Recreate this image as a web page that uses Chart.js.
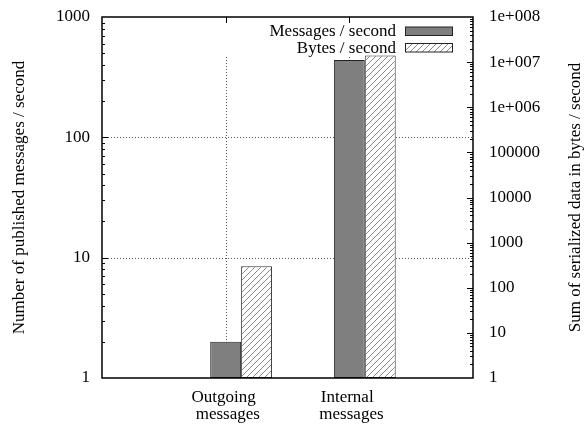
<!DOCTYPE html>
<html><head><meta charset="utf-8">
<script src="https://cdn.jsdelivr.net/npm/chart.js@4/dist/chart.umd.min.js"></script>
<style>html,body{margin:0;padding:0;background:#fff;}#wrap{width:584px;height:424px;}</style>
</head><body><div id="wrap"><canvas id="c" width="584" height="424"></canvas></div>
<script>
const categories = [['Outgoing ', ' messages'], ['Internal ', ' messages']];
const messagesPerSecond = [2, 440];
const bytesPerSecond = [300, 1.4e7];
const seriesLabels = ['Messages / second', 'Bytes / second'];
const leftTicks = [1, 10, 100, 1000];
const leftTickLabels = ['1', '10', '100', '1000'];
const rightTicks = [1, 10, 100, 1000, 10000, 100000, 1e6, 1e7, 1e8];
const rightTickLabels = ['1', '10', '100', '1000', '10000', '100000', '1e+006', '1e+007', '1e+008'];
const leftTitle = 'Number of published messages / second';
const rightTitle = 'Sum of serialized data in bytes / second';

const FONT = '"Liberation Serif", "Times New Roman", serif';
const FS = 17;

function hatchPattern(ctx) {
  const p = document.createElement('canvas');
  p.width = 6; p.height = 6;
  const g = p.getContext('2d');
  g.fillStyle = '#fff'; g.fillRect(0, 0, 6, 6);
  g.strokeStyle = '#8a8a8a'; g.lineWidth = 1;
  g.beginPath();
  g.moveTo(-1, 7); g.lineTo(7, -1);
  g.moveTo(-1, 1); g.lineTo(1, -1);
  g.moveTo(5, 7); g.lineTo(7, 5);
  g.stroke();
  return ctx.createPattern(p, 'repeat');
}

const canvas = document.getElementById('c');
const ctx0 = canvas.getContext('2d');
const hatch = hatchPattern(ctx0);
const DARK = '#7f7f7f';

const pad = arr => [null, ...arr, null];

const decor = {
  id: 'decor',
  beforeDatasetsDraw(chart) {
    const { ctx, chartArea: a, scales: { x, y } } = chart;
    ctx.save();
    ctx.strokeStyle = '#555';
    ctx.lineWidth = 1;
    ctx.setLineDash([1, 2]);
    leftTicks.forEach(v => {
      if (v <= y.min || v >= y.max) return;
      const py = Math.round(y.getPixelForValue(v)) + 0.5;
      ctx.beginPath(); ctx.moveTo(a.left, py); ctx.lineTo(a.right, py); ctx.stroke();
    });
    const keyBottom = 57;
    categories.forEach((c, i) => {
      const px = Math.round(x.getPixelForValue(i + 1)) + 0.5;
      ctx.beginPath(); ctx.moveTo(px, keyBottom); ctx.lineTo(px, a.bottom); ctx.stroke();
    });
    ctx.restore();
  },
  afterDatasetsDraw(chart) {
    const { ctx, chartArea: a, scales: { x, y, y2 } } = chart;
    ctx.save();
    ctx.strokeStyle = '#000';
    ctx.lineWidth = 1;
    for (let e = 0; e < 3; e++) {
      for (let k = 1; k <= 9; k++) {
        const v = k * Math.pow(10, e);
        if (v <= y.min || v >= y.max) continue;
        const py = Math.round(y.getPixelForValue(v)) + 0.5;
        const len = k === 1 ? 6 : 3;
        ctx.beginPath(); ctx.moveTo(a.left, py); ctx.lineTo(a.left + len, py); ctx.stroke();
      }
    }
    for (let e = 0; e < 8; e++) {
      for (let k = 1; k <= 9; k++) {
        const v = k * Math.pow(10, e);
        if (v <= y2.min || v >= y2.max) continue;
        const py = Math.round(y2.getPixelForValue(v)) + 0.5;
        const len = k === 1 ? 6 : 3;
        ctx.beginPath(); ctx.moveTo(a.right, py); ctx.lineTo(a.right - len, py); ctx.stroke();
      }
    }
    categories.forEach((c, i) => {
      const px = Math.round(x.getPixelForValue(i + 1)) + 0.5;
      ctx.beginPath(); ctx.moveTo(px, a.top); ctx.lineTo(px, a.top + 6); ctx.stroke();
    });
    ctx.lineWidth = 1.5;
    ctx.strokeRect(a.left, a.top, a.right - a.left, a.bottom - a.top);
    ctx.font = FS + 'px ' + FONT;
    ctx.textAlign = 'right';
    ctx.textBaseline = 'middle';
    const ds = chart.data.datasets.slice(1);
    ds.forEach((d, i) => {
      const cy = 31 + i * 16.5;
      ctx.fillStyle = '#000';
      ctx.fillText(d.label, 396, cy + 1);
      ctx.fillStyle = d.backgroundColor;
      ctx.fillRect(405.5, cy - 4, 47, 8.5);
      ctx.lineWidth = 1;
      ctx.strokeStyle = '#222';
      ctx.strokeRect(405.5, cy - 4, 47, 8.5);
    });
    ctx.restore();
  },
  afterDraw(chart) {
    const { ctx, chartArea: a } = chart;
    const cy = (a.top + a.bottom) / 2;
    [[20, leftTitle], [576, rightTitle]].forEach(([tx, t]) => {
      ctx.save();
      ctx.font = FS + 'px ' + FONT;
      ctx.fillStyle = '#000';
      ctx.textAlign = 'center';
      ctx.textBaseline = 'middle';
      ctx.translate(tx, cy); ctx.rotate(-Math.PI / 2);
      ctx.fillText(t, 0, 0);
      ctx.restore();
    });
  }
};

const noPad = s => { s.paddingTop = 0; s.paddingBottom = 0; };

new Chart(canvas, {
  type: 'bar',
  data: {
    labels: pad(categories).map(c => c === null ? '' : c),
    datasets: [
      { label: '', data: pad([null, null]), yAxisID: 'y', backgroundColor: 'rgba(0,0,0,0)', borderWidth: 0 },
      { label: seriesLabels[0], data: pad(messagesPerSecond), yAxisID: 'y', backgroundColor: DARK, borderColor: '#222', borderWidth: 1, borderSkipped: false },
      { label: seriesLabels[1], data: pad(bytesPerSecond), yAxisID: 'y2', backgroundColor: hatch, borderColor: '#333', borderWidth: 1, borderSkipped: false }
    ]
  },
  options: {
    responsive: false,
    animation: false,
    devicePixelRatio: 1,
    categoryPercentage: 0.75,
    barPercentage: 1,
    layout: { padding: { top: 17, left: 0, right: 0, bottom: 0 } },
    plugins: { legend: { display: false }, tooltip: { enabled: false } },
    scales: {
      x: {
        type: 'category',
        offset: false,
        grid: { display: false, drawTicks: false },
        border: { display: false },
        ticks: {
          autoSkip: false, maxRotation: 0, padding: 11,
          color: '#000',
          font: { family: FONT, size: FS, lineHeight: 1 }
        },
        afterFit: s => { s.height = 46; s.paddingLeft = 0; s.paddingRight = 0; }
      },
      y: {
        type: 'logarithmic', position: 'left', min: 1, max: 1000,
        grid: { display: false, drawTicks: false },
        border: { display: false },
        afterBuildTicks: s => { s.ticks = leftTicks.map(v => ({ value: v })); },
        ticks: {
          padding: 12, color: '#000',
          font: { family: FONT, size: FS },
          callback: (v) => leftTickLabels[leftTicks.indexOf(v)]
        },
        afterFit: s => { s.width = 102; noPad(s); }
      },
      y2: {
        type: 'logarithmic', position: 'right', min: 1, max: 1e8,
        grid: { display: false, drawTicks: false },
        border: { display: false },
        afterBuildTicks: s => { s.ticks = rightTicks.map(v => ({ value: v })); },
        ticks: {
          padding: 16, color: '#000',
          font: { family: FONT, size: FS },
          callback: (v) => rightTickLabels[rightTicks.indexOf(v)]
        },
        afterFit: s => { s.width = 111; noPad(s); }
      }
    }
  },
  plugins: [decor]
});
</script>
</body></html>
